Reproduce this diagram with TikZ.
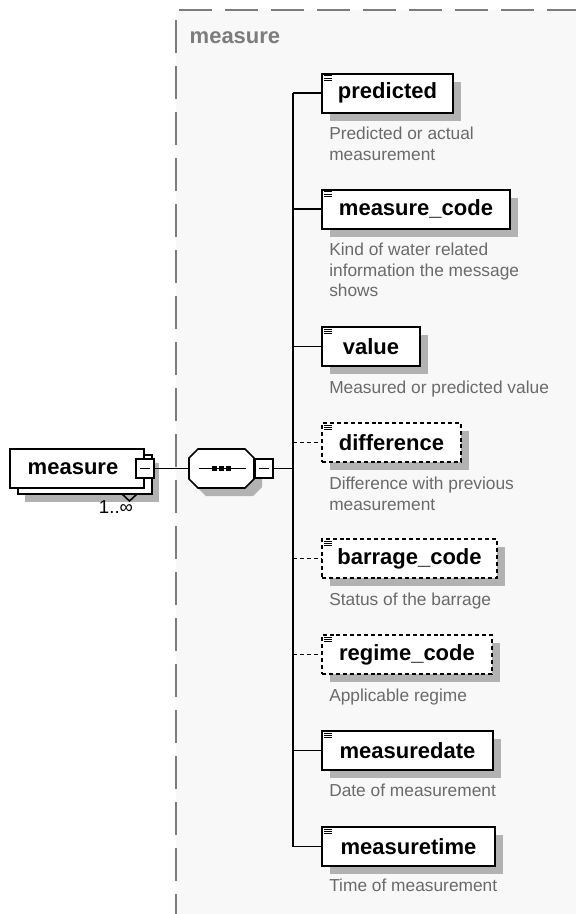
\documentclass[tikz,border=0pt]{standalone}
\usepackage{fontspec}
\setmainfont{Liberation Sans}
\usetikzlibrary{positioning,shadows}

\definecolor{shadowgray}{HTML}{B2B2B2}
\definecolor{descgray}{HTML}{6A6A6A}
\definecolor{panelgray}{HTML}{F8F8F8}
\definecolor{framegray}{HTML}{7C7C7C}

\tikzset{
  link/.style={line width=1.4pt},
  optlink/.style={link, dash pattern=on 3pt off 2.2pt},
  elem/.style={draw=black, line width=1.5pt, fill=white, anchor=west,
    minimum height=29.25pt, minimum width=#1, inner xsep=0pt,
    font=\fontsize{16.5}{18}\selectfont\bfseries,
    drop shadow={shadow xshift=6pt, shadow yshift=-6pt, fill=shadowgray, opacity=1}},
  optelem/.style={elem=#1, dash pattern=on 3pt off 2.2pt},
  desc/.style={anchor=north west, text=descgray, align=left, inner sep=0pt,
    font=\fontsize{13}{15.4}\selectfont},
  minusbox/.style={draw=black, line width=1pt, fill=white,
    minimum width=13.5pt, minimum height=14.25pt, inner sep=0pt},
}

\begin{document}
\begin{tikzpicture}[x=0.75pt, y=-0.75pt]
  \useasboundingbox (0,0) rectangle (576,914);
  \fill[white] (0,0) rectangle (576,914);

  % Group frame
  \fill[panelgray] (176,10) rectangle (576,914);
  \draw[framegray, line width=1.4pt, dash pattern=on 25pt off 9.5pt] (179,10) -- (576,10);
  \draw[framegray, line width=1.4pt, dash pattern=on 25pt off 9.5pt] (176,20) -- (176,914);
  \node[anchor=west, text=framegray, font=\fontsize{16.5}{18}\selectfont\bfseries] (title) at (185,38) {measure};

  % Root element (repeating)
  \fill[shadowgray] (25,463) rectangle (159,502);
  \draw[line width=1.2pt, fill=white] (18,455) rectangle (152,494);
  \draw[line width=1.2pt] (122,494) -- (129.5,501) -- (137,494);
  \node[draw=black, line width=1.2pt, fill=white, minimum width=100.5pt, minimum height=29.25pt,
    inner xsep=0pt, font=\fontsize{16.5}{18}\selectfont\bfseries] (root) at (77,468.5) {measure\hspace*{6pt}};
  \node[minusbox] (rootminus) at (145,468.5) {};
  \draw[line width=1pt] ([xshift=-4pt]rootminus.center) -- ([xshift=4pt]rootminus.center);
  \node[font=\fontsize{14}{16}\selectfont] (card) at (116,507) {1..∞};

  % Sequence compositor
  \fill[shadowgray] (206,457) -- (253,457) -- (262,466) -- (262,487) -- (253,496) -- (206,496) -- (197,487) -- (197,466) -- cycle;
  \draw[line width=1.2pt, fill=white] (198,449) -- (245,449) -- (254,458) -- (254,479) -- (245,488) -- (198,488) -- (189,479) -- (189,458) -- cycle;
  \node[minimum width=48.75pt, minimum height=29.25pt, inner sep=0pt] (seq) at (221.5,468.5) {};
  \draw[line width=1.2pt] (199,468.5) -- (246,468.5);
  \foreach \dx in {-7,0,7}
    \fill ([xshift=\dx*0.75pt]seq.center) +(-2.5,-2.5) rectangle +(2.5,2.5);
  \node[minusbox] (seqminus) at (264,468.5) {};
  \draw[line width=1pt] ([xshift=-4pt]seqminus.center) -- ([xshift=4pt]seqminus.center);

  \draw[link] (rootminus.east) -- (seq.west);
  \coordinate (bus) at (293,468.5);
  \draw[link] (seqminus.east) -- (bus);

  % Child elements
  \node[elem=98.25pt] (predicted) at (321,93) {predicted};
  \node[desc] (predicteddesc) at (329,127) {Predicted or actual\\measurement};

  \node[elem=141pt] (measurecode) at (321,209) {measure\_code};
  \node[desc] (measurecodedesc) at (329,243) {Kind of water related\\information the message\\shows};

  \node[elem=73.5pt] (value) at (321,346.5) {value};
  \node[desc] (valuedesc) at (329,381) {Measured or predicted value};

  \node[optelem=104.25pt] (difference) at (321,442.5) {difference};
  \node[desc] (differencedesc) at (329,477) {Difference with previous\\measurement};

  \node[optelem=131.25pt] (barragecode) at (321,558.5) {barrage\_code};
  \node[desc] (barragecodedesc) at (329,593) {Status of the barrage};

  \node[optelem=127.5pt] (regimecode) at (321,654.5) {regime\_code};
  \node[desc] (regimecodedesc) at (329,689) {Applicable regime};

  \node[elem=128.25pt] (measuredate) at (321,750.5) {measuredate};
  \node[desc] (measuredatedesc) at (329,784) {Date of measurement};

  \node[elem=129.75pt] (measuretime) at (321,846.5) {measuretime};
  \node[desc] (measuretimedesc) at (329,879) {Time of measurement};

  % Bus and branches
  \draw[link] (bus |- predicted.west) -- (bus |- measuretime.west);
  \foreach \n in {predicted,measurecode,value,measuredate,measuretime}
    \draw[link] (bus |- \n.west) -- (\n.west);
  \foreach \n in {difference,barragecode,regimecode}
    \draw[optlink] (bus |- \n.west) -- (\n.west);

  % Element icons
  \foreach \n in {predicted,measurecode,value,difference,barragecode,regimecode,measuredate,measuretime}
    \foreach \k in {2.5,4.2,5.9}
      \draw[line width=0.6pt] ([shift={(2.6pt,-\k pt)}]\n.north west) -- ++(5.4pt,0pt);
\end{tikzpicture}
\end{document}
